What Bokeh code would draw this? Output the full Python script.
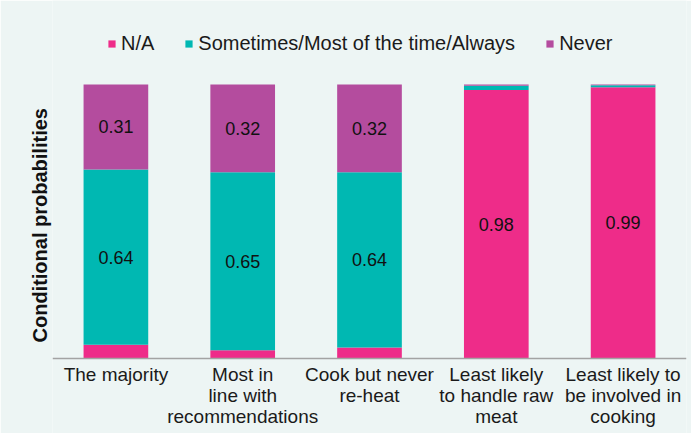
from bokeh.plotting import figure
from bokeh.models import ColumnDataSource, FactorRange, Range1d, Legend, LegendItem, Span, Title
from bokeh.core.properties import value
from bokeh.embed import file_html
from bokeh.resources import INLINE

categories = ["The majority", "Most in\nline with\nrecommendations", "Cook but never\nre-heat",
              "Least likely\nto handle raw\nmeat", "Least likely to\nbe involved in\ncooking"]
series_names = ["N/A", "Sometimes/Most of the time/Always", "Never"]
na = [0.05, 0.03, 0.04, 0.98, 0.99]
sometimes = [0.64, 0.65, 0.64, 0.015, 0.007]
never = [0.31, 0.32, 0.32, 0.005, 0.003]
# which segments carry a printed value (series index per category)
labelled = [[1, 2], [1, 2], [1, 2], [0], [0]]
label_text = [["0.64", "0.31"], ["0.65", "0.32"], ["0.64", "0.32"], ["0.98"], ["0.99"]]
y_title = "Conditional probabilities"

colors = ["#EE2C89", "#00B8B2", "#B44C9E"]
bg = "#EDF5F4"
font = "Liberation Sans"

W, H = 691, 433
TOP, BOTTOM = 84, 75          # pixels above 1.0 and below 0.0
UNIT = H - TOP - BOTTOM       # pixels per unit of probability

p = figure(x_range=FactorRange(*categories),
           y_range=Range1d(-BOTTOM / UNIT, 1 + TOP / UNIT),
           width=W, height=H, output_backend="svg", toolbar_location=None,
           min_border_left=52, min_border_right=5, min_border_top=0, min_border_bottom=0)
p.background_fill_color = bg
p.border_fill_color = bg
p.outline_line_color = None
p.grid.grid_line_color = None
p.axis.visible = False

src = ColumnDataSource(dict(cat=categories, na=na, sometimes=sometimes, never=never))
rs = p.vbar_stack(["na", "sometimes", "never"], x="cat", width=0.51, source=src,
                  color=colors, line_color=None)

# x axis line
p.add_layout(Span(location=0, dimension="width", line_color="#A3A3A3", line_width=1.5))

# value labels
lx, ly, lt = [], [], []
cols = [na, sometimes, never]
for i, c in enumerate(categories):
    for k, s in enumerate(labelled[i]):
        base = sum(cols[j][i] for j in range(s))
        lx.append(c)
        ly.append(base + cols[s][i] / 2)
        lt.append(label_text[i][k])
p.text(x=lx, y=ly, text=lt, text_align="center", text_baseline="middle",
       text_font=value(font), text_font_size="18px", text_color="#111111")

# category tick labels (multi-line)
tx, ty, tt = [], [], []
for c in categories:
    for k, line in enumerate(c.split("\n")):
        tx.append(c)
        ty.append(-(5 + 21.3 * k) / UNIT)
        tt.append(line)
p.text(x=tx, y=ty, text=tt, text_align="center", text_baseline="top",
       text_font=value(font), text_font_size="19px", text_color="#1a1a1a")

# y title
p.add_layout(Title(text=y_title, align="left", offset=91, standoff=3,
                   text_font=font, text_font_style="bold", text_font_size="20px",
                   text_color="#111111"), "left")

legend = Legend(items=[LegendItem(label=n, renderers=[r]) for n, r in zip(series_names, rs)],
                orientation="horizontal", location=(55, H - 55),
                glyph_width=9, glyph_height=9, label_standoff=5, spacing=30,
                padding=0, margin=0, border_line_color=None, background_fill_alpha=0,
                label_text_font=font, label_text_font_size="20px", label_text_color="#1a1a1a")
p.add_layout(legend, "center")

open("out.html", "w").write(file_html(p, INLINE))
